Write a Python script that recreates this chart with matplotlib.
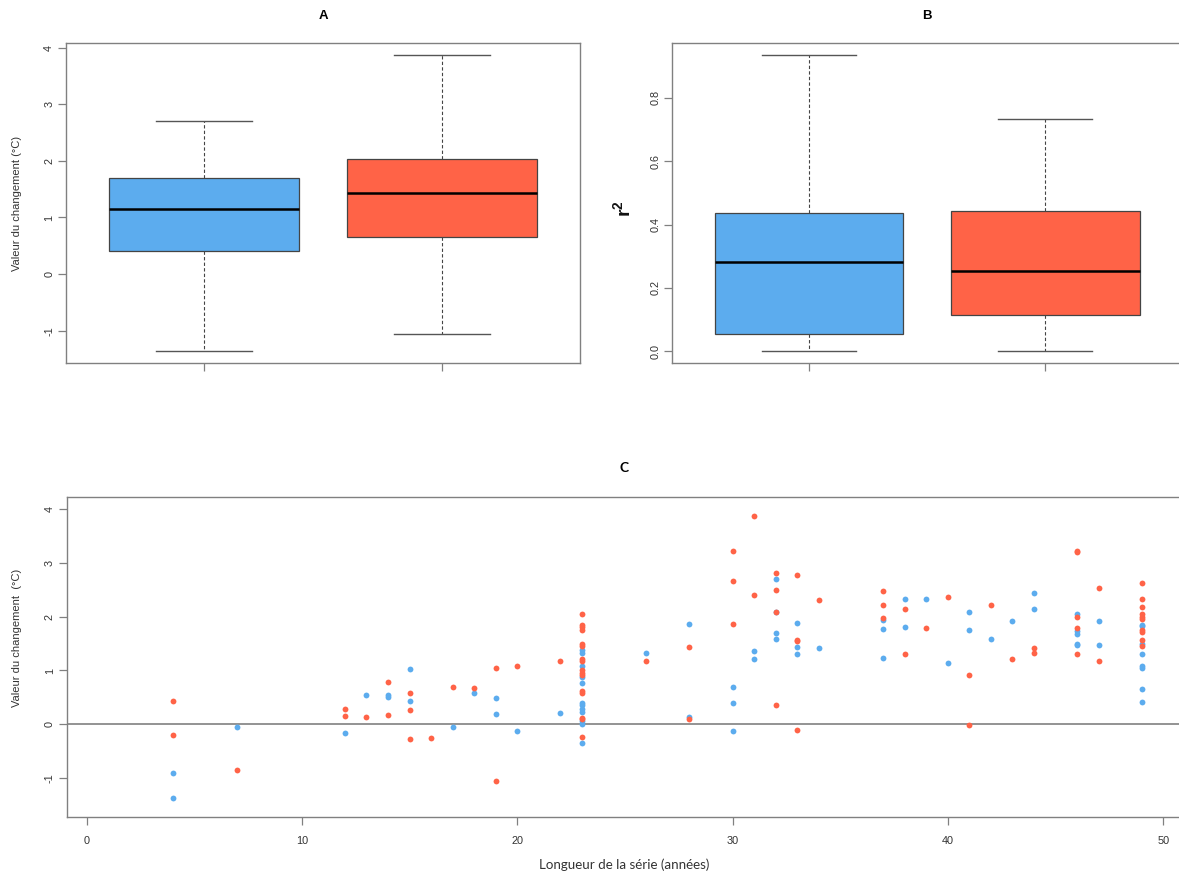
import numpy as np
import matplotlib
matplotlib.use("Agg")
import matplotlib.pyplot as plt

plt.rcParams['font.family'] = ['Liberation Sans', 'DejaVu Sans']
plt.rcParams['mathtext.default'] = 'regular'
plt.rcParams['axes.unicode_minus'] = False

BLEU = "#5CACEE"
ROUGE = "#FF6347"
GRIS = "#808080"

# panel A : statistiques des boites (bas, q1, mediane, q3, haut)
stats_a_bleu = [-1.36, 0.40, 1.15, 1.69, 2.70]
stats_a_rouge = [-1.05, 0.65, 1.43, 2.04, 3.86]

# panel B : r2
stats_b_bleu = [0.0, 0.053, 0.283, 0.436, 0.936]
stats_b_rouge = [0.0, 0.113, 0.254, 0.442, 0.732]

# panel C : longueur de la serie vs valeur du changement
x_bleu = [4, 4, 7, 12, 13, 14, 14, 15, 15, 17, 18, 19, 19, 20, 22,
          23, 23, 23, 23, 23, 23, 23, 23, 23, 23, 23, 23,
          26, 28, 28, 30, 30, 30, 31, 31,
          32, 32, 32, 32, 33, 33, 33, 34, 37, 37, 37, 38, 38, 39, 40,
          41, 41, 42, 43, 44, 44, 46, 46, 46, 46, 46, 47, 47,
          49, 49, 49, 49, 49, 49, 49, 49]
y_bleu = [-0.90, -1.36, -0.05, -0.17, 0.54, 0.54, 0.50, 1.02, 0.44, -0.05, 0.59, 0.49, 0.20, -0.13, 0.21,
          1.38, 1.33, 1.09, 0.88, 0.77, 0.39, 0.35, 0.29, 0.23, 0.06, 0.0, -0.35,
          1.32, 1.86, 0.14, 0.69, 0.40, -0.13, 1.37, 1.22,
          2.70, 2.08, 1.70, 1.59, 1.88, 1.44, 1.30, 1.41, 1.93, 1.77, 1.24, 2.32, 1.81, 2.33, 1.14,
          2.09, 1.75, 1.59, 1.91, 2.43, 2.14, 2.04, 1.73, 1.67, 1.49, 1.47, 1.91, 1.48,
          1.85, 1.83, 1.49, 1.31, 1.08, 1.05, 0.65, 0.42]

x_rouge = [4, 4, 7, 12, 12, 13, 14, 14, 15, 15, 15, 16, 17, 18, 19, 19, 20, 22,
           23, 23, 23, 23, 23, 23, 23, 23, 23, 23, 23, 23, 23, 23, 23, 23,
           26, 28, 28, 30, 30, 30, 31, 31, 32, 32, 32, 32, 33, 33, 33, 33, 34,
           37, 37, 37, 38, 38, 39, 40, 41, 41, 42, 43, 44, 44,
           46, 46, 46, 46, 46, 47, 47,
           49, 49, 49, 49, 49, 49, 49, 49, 49, 49]
y_rouge = [0.43, -0.20, -0.85, 0.28, 0.15, 0.14, 0.78, 0.17, 0.59, 0.26, -0.28, -0.25, 0.70, 0.68, 1.04, -1.06, 1.09, 1.17,
           2.04, 1.85, 1.80, 1.75, 1.49, 1.45, 1.21, 1.17, 1.00, 0.95, 0.91, 0.61, 0.59, 0.12, 0.09, -0.24,
           1.17, 1.44, 0.09, 3.21, 2.67, 1.86, 3.86, 2.40, 2.80, 2.49, 2.09, 0.35, 2.78, 1.56, 1.54, -0.10, 2.31,
           2.48, 2.21, 1.97, 2.15, 1.31, 1.78, 2.37, 0.91, -0.02, 2.22, 1.22, 1.41, 1.33,
           3.22, 3.19, 2.00, 1.78, 1.30, 2.54, 1.17,
           2.63, 2.33, 2.18, 2.04, 2.00, 1.96, 1.75, 1.72, 1.56, 1.46]


def style_axe(ax):
    for s in ax.spines.values():
        s.set_color(GRIS)
        s.set_linewidth(1.0)
    ax.tick_params(direction='out', length=5.5, width=0.9, color=GRIS,
                   labelcolor='#333333', labelsize=7.8)
    ax.tick_params(axis='x', pad=8)
    ax.tick_params(axis='y', pad=3)
    for lab in ax.get_yticklabels():
        lab.set_rotation(90)
        lab.set_va('center')


def boites(ax, s1, s2):
    st = []
    for s in (s1, s2):
        st.append(dict(whislo=s[0], q1=s[1], med=s[2], q3=s[3], whishi=s[4], fliers=[]))
    res = ax.bxp(st, positions=[1, 2], widths=0.8, capwidths=0.4, patch_artist=True,
                 boxprops=dict(edgecolor='#444444', linewidth=0.9),
                 whiskerprops=dict(color='#444444', linestyle=(0, (3, 2)), linewidth=0.8),
                 capprops=dict(color='#555555', linewidth=1.0),
                 medianprops=dict(color='black', linewidth=1.8))
    for p, c in zip(res['boxes'], [BLEU, ROUGE]):
        p.set_facecolor(c)
    ax.set_xlim(0.42, 2.58)
    ax.set_xticks([1, 2])
    ax.set_xticklabels(['', ''])


fig = plt.figure(figsize=(11.79, 8.74), dpi=100)
W, H = 1179.0, 874.0

# A
axA = fig.add_axes([66 / W, 1 - 363 / H, (580 - 66) / W, (363 - 43) / H])
boites(axA, stats_a_bleu, stats_a_rouge)
axA.set_ylim(-1.57, 4.08)
axA.set_yticks([-1, 0, 1, 2, 3, 4])
style_axe(axA)

# B
axB = fig.add_axes([672 / W, 1 - 363 / H, (1182 - 672) / W, (363 - 43) / H])
boites(axB, stats_b_bleu, stats_b_rouge)
axB.set_ylim(-0.037, 0.973)
axB.set_yticks([0.0, 0.2, 0.4, 0.6, 0.8])
axB.set_yticklabels(['0.0', '0.2', '0.4', '0.6', '0.8'])
style_axe(axB)

# C
axC = fig.add_axes([66.7 / W, 1 - 817 / H, (1183 - 66.7) / W, (817 - 497) / H])
axC.axhline(0, color=GRIS, linewidth=1.2, zorder=1)
axC.plot(x_bleu, y_bleu, 'o', color=BLEU, markersize=4.2, markeredgewidth=0, zorder=2)
axC.plot(x_rouge, y_rouge, 'o', color=ROUGE, markersize=4.2, markeredgewidth=0, zorder=3)
axC.set_xlim(-0.92, 50.92)
axC.set_ylim(-1.72, 4.22)
axC.set_xticks([0, 10, 20, 30, 40, 50])
axC.set_yticks([-1, 0, 1, 2, 3, 4])
style_axe(axC)

# titres et etiquettes
fig.text(323 / W, 1 - 16 / H, 'A', ha='center', va='center', fontsize=9.5, fontweight='bold')
fig.text(927 / W, 1 - 16 / H, 'B', ha='center', va='center', fontsize=9.5, fontweight='bold')
fig.text(624 / W, 1 - 468 / H, 'C', ha='center', va='center', fontsize=10, fontweight='bold',
         family=['Lato', 'DejaVu Sans'])
fig.text(17 / W, 1 - 203 / H, 'Valeur du changement (°C)', rotation=90, ha='center', va='center',
         fontsize=8, color='#333333')
fig.text(17 / W, 1 - 638 / H, 'Valeur du changement  (°C)', rotation=90, ha='center', va='center',
         fontsize=8, color='#333333')
fig.text(623 / W, 1 - 209 / H, 'r$^2$', rotation=90, ha='center', va='center',
         fontsize=14, fontweight='bold', color='#111111')
fig.text(624 / W, 1 - 865 / H, 'Longueur de la série (années)', ha='center', va='center',
         fontsize=9.6, color='#333333', family=['Lato', 'DejaVu Sans'])

fig.savefig('out.png', dpi=100)
